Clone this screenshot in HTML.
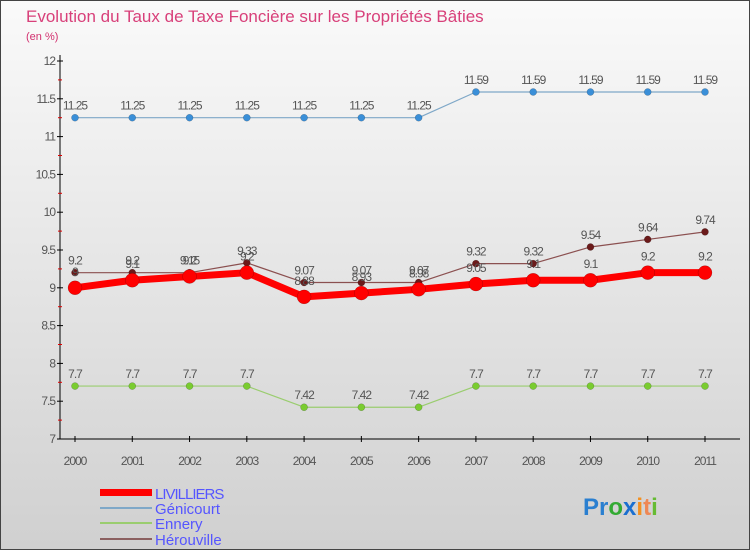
<!DOCTYPE html>
<html><head><meta charset="utf-8"><style>
body{margin:0;width:750px;height:550px;overflow:hidden;font-family:"Liberation Sans",sans-serif}
</style></head><body>
<svg id="c" width="750" height="550" xmlns="http://www.w3.org/2000/svg">
<defs><linearGradient id="bg" x1="0" y1="0" x2="0" y2="1"><stop offset="0" stop-color="#fafafa"/><stop offset="1" stop-color="#d0d0d0"/></linearGradient></defs>
<rect x="0.5" y="0.5" width="749" height="549" fill="url(#bg)" stroke="#444"/>
<text x="26" y="22" font-size="17" fill="#d8407a">Evolution du Taux de Taxe Foncière sur les Propriétés Bâties</text>
<text x="26" y="40" font-size="11" fill="#d2306f">(en %)</text>
<g id="axes"></g><g id="series"></g>
<g font-size="15" fill="#5555ff">
<rect x="100" y="489" width="52" height="7" fill="#f00"/>
<text x="155" y="499" letter-spacing="-1">LIVILLIERS</text>
<rect x="100" y="507" width="52" height="2" fill="#7fa8c8"/>
<text x="155" y="514">Génicourt</text>
<rect x="100" y="522" width="52" height="2" fill="#9acd6f"/>
<text x="155" y="529">Ennery</text>
<rect x="100" y="538" width="52" height="2" fill="#8b6060"/>
<text x="155" y="545">Hérouville</text>
</g>
<text x="583" y="515" font-size="24" font-weight="bold"><tspan fill="#2a7fd0">Pr</tspan><tspan fill="#3a3">o</tspan><tspan fill="#1a6fd0">x</tspan><tspan fill="#f39020">i</tspan><tspan fill="#e85">t</tspan><tspan fill="#6b3">i</tspan></text>
</svg>
<script>
const years=["2000","2001","2002","2003","2004","2005","2006","2007","2008","2009","2010","2011"];
const yTicks=[7,7.5,8,8.5,9,9.5,10,10.5,11,11.5,12];
const livilliers=[9,9.1,9.15,9.2,8.88,8.93,8.98,9.05,9.1,9.1,9.2,9.2];
const genicourt=[11.25,11.25,11.25,11.25,11.25,11.25,11.25,11.59,11.59,11.59,11.59,11.59];
const ennery=[7.7,7.7,7.7,7.7,7.42,7.42,7.42,7.7,7.7,7.7,7.7,7.7];
const herouville=[9.2,9.2,9.2,9.33,9.07,9.07,9.07,9.32,9.32,9.54,9.64,9.74];
const NS="http://www.w3.org/2000/svg";
const X=i=>75+i*(630/11), Y=v=>439-(v-7)*75.6;
function mk(t,a,p){const e=document.createElementNS(NS,t);for(const k in a)e.setAttribute(k,a[k]);p.appendChild(e);return e;}
const ax=document.getElementById('axes'), sg=document.getElementById('series');
const yl=mk('line',{x1:60,y1:55,x2:60,y2:439,stroke:'#000','stroke-width':1},ax);


const xl=mk('line',{x1:60,y1:439,x2:740,y2:439,stroke:'#000','stroke-width':1},ax);


yTicks.forEach(v=>{
  mk('line',{x1:57,y1:Y(v),x2:63,y2:Y(v),stroke:'#000'},ax);
  const t=mk('text',{x:55,y:Y(v)+4,'text-anchor':'end','font-size':12,fill:'#555','letter-spacing':'-1'},ax);
  t.textContent=v;
  
  
  if(v<12) mk('line',{x1:58,y1:Y(v+0.25),x2:62,y2:Y(v+0.25),stroke:'#d00'},ax);
});
years.forEach((y,i)=>{
  mk('line',{x1:X(i),y1:436,x2:X(i),y2:442,stroke:'#000'},ax);
  const t=mk('text',{x:X(i),y:465,'text-anchor':'middle','font-size':12,fill:'#555','letter-spacing':'-1'},ax);
  t.textContent=y;
  
  
});
function series(name,data,color,dot,w,r,lblOff){
  const g=mk('g',{},sg);
  
  
  mk('polyline',{points:data.map((v,i)=>X(i)+','+Y(v)).join(' '),fill:'none',stroke:color,'stroke-width':w,'stroke-linejoin':'round'},g);
  data.forEach((v,i)=>{
    const c=mk('circle',{cx:X(i),cy:Y(v),r:r,fill:dot,stroke:'rgba(0,0,0,0.3)','stroke-width':0.5},g);
    
    
    const t=mk('text',{x:X(i),y:Y(v)+lblOff,'text-anchor':'middle','font-size':12,fill:'#555','letter-spacing':'-1'},g);
    t.textContent=v;
    
    
  });
}
series('genicourt',genicourt,'#7fa8c8','#3a8fd8',1.2,3.5,-8);
series('ennery',ennery,'#9acd6f','#7acc30',1.2,3.5,-8);
series('herouville',herouville,'#8b5050','#6b1a1a',1.2,3.5,-8);
series('livilliers',livilliers,'#f00','#f00',7,7,-12);
</script>
</body></html>
